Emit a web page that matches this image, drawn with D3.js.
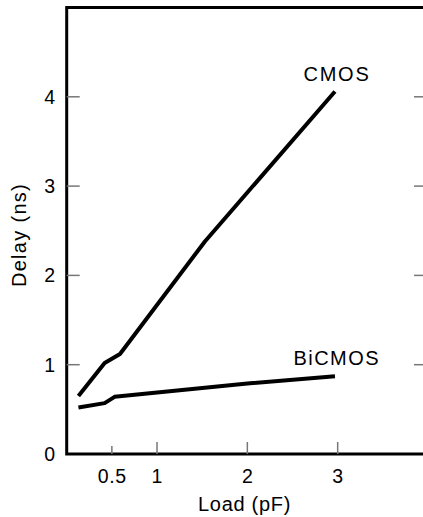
<!DOCTYPE html>
<html><head><meta charset="utf-8">
<script src="https://cdn.jsdelivr.net/npm/d3@7"></script>
<style>body{margin:0;background:#fff}svg{display:block}text{font-family:"Liberation Sans",Arial,sans-serif;fill:#000}</style>
</head><body>
<script>
const cmosX = [0.13, 0.42, 0.59, 1.53, 2.97];
const cmosY = [0.65, 1.02, 1.12, 2.38, 4.06];
const bicmosX = [0.13, 0.42, 0.53, 2.0, 2.97];
const bicmosY = [0.52, 0.57, 0.64, 0.79, 0.87];
const xTicks = [0.5, 1, 2, 3];
const yTicks = [0, 1, 2, 3, 4];
const seriesLabels = ["CMOS", "BiCMOS"];

const W = 423, H = 517;
const svg = d3.select("body").append("svg").attr("width", W).attr("height", H);
const x = d3.scaleLinear().domain([0, 4]).range([66.7, 428]);
const y = d3.scaleLinear().domain([0, 5]).range([454, 7.5]);

// frame
svg.append("path")
  .attr("d", `M${x(4)},${y(5)}H${x(0)}V${y(0)}H${x(4)}`)
  .attr("fill", "none").attr("stroke", "#000").attr("stroke-width", 3);

// bottom ticks
svg.selectAll(".xt").data(xTicks).join("line")
  .attr("x1", d => x(d)).attr("x2", d => x(d))
  .attr("y1", y(0)).attr("y2", d => y(0) - (d === 0.5 ? 8 : 12))
  .attr("stroke", "#777").attr("stroke-width", 1.5);
svg.selectAll(".xl").data(xTicks).join("text")
  .attr("x", d => x(d) + 0.3).attr("y", 483.3).attr("text-anchor", "middle")
  .attr("font-size", 19.5).attr("letter-spacing", 0.6).text(d => d);

// left ticks
svg.selectAll(".yt").data(yTicks.filter(d => d > 0)).join("line")
  .attr("x1", x(0)).attr("x2", x(0) + 13)
  .attr("y1", d => y(d)).attr("y2", d => y(d))
  .attr("stroke", "#777").attr("stroke-width", 1.5);
// right ticks
svg.selectAll(".yr").data(yTicks.filter(d => d > 0)).join("line")
  .attr("x1", x(4)).attr("x2", x(4) - 14)
  .attr("y1", d => y(d)).attr("y2", d => y(d))
  .attr("stroke", "#777").attr("stroke-width", 1.5);
svg.selectAll(".yl").data(yTicks).join("text")
  .attr("x", 55).attr("y", d => y(d) + 6.8).attr("text-anchor", "end")
  .attr("font-size", 19.5).text(d => d);

// axis titles
svg.append("text").attr("x", 244.5).attr("y", 511).attr("text-anchor", "middle")
  .attr("font-size", 20).attr("letter-spacing", 0.7).text("Load (pF)");
svg.append("text").attr("transform", "translate(26,235) rotate(-90)")
  .attr("text-anchor", "middle").attr("font-size", 20).attr("letter-spacing", 1.3)
  .text("Delay (ns)");

const line = d3.line().x(d => x(d[0])).y(d => y(d[1]));
const series = [d3.zip(cmosX, cmosY), d3.zip(bicmosX, bicmosY)];
svg.selectAll(".ln").data(series).join("path")
  .attr("d", line).attr("fill", "none").attr("stroke", "#000")
  .attr("stroke-width", 4).attr("stroke-linejoin", "round");

svg.append("text").attr("x", 337).attr("y", 80.7).attr("text-anchor", "middle")
  .attr("font-size", 20).attr("letter-spacing", 1.8).text(seriesLabels[0]);
svg.append("text").attr("x", 336.8).attr("y", 365).attr("text-anchor", "middle")
  .attr("font-size", 20).attr("letter-spacing", 1.5).text(seriesLabels[1]);
</script>
</body></html>
